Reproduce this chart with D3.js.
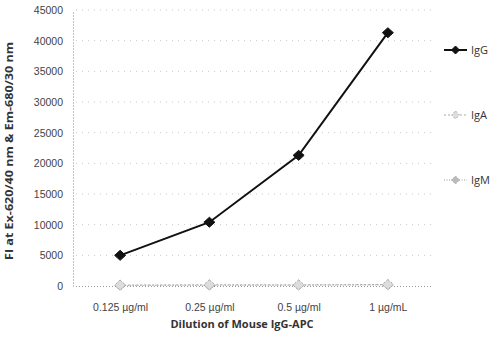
<!DOCTYPE html>
<html>
<head>
<meta charset="utf-8">
<script src="https://cdn.jsdelivr.net/npm/d3@7"></script>
<style>
body { margin: 0; background: #fff; }
svg { font-family: "Open Sans", sans-serif; }
</style>
</head>
<body>
<script>
// categorie (diluizioni)
var dilutions = ["0.125 \u00b5g/ml", "0.25 \u00b5g/ml", "0.5 \u00b5g/ml", "1 \u00b5g/mL"];
// valori
var igG = [5000, 10400, 21300, 41300];
var igA = [150, 200, 180, 250];
var igM = [100, 120, 140, 180];
var yTicks = [0, 5000, 10000, 15000, 20000, 25000, 30000, 35000, 40000, 45000];
var seriesNames = ["IgG", "IgA", "IgM"];

var width = 500, height = 338;

var svg = d3.select("body").append("svg")
	.attr("width", width)
	.attr("height", height);

var x = d3.scalePoint()
	.domain(dilutions)
	.range([75.5, 432.5])
	.padding(0.5);

var y = d3.scaleLinear()
	.domain([0, 45000])
	.range([286, 10]);

// griglia orizzontale tratteggiata
svg.append("g")
	.selectAll("line")
	.data(yTicks.filter(function(d) { return d > 0; }))
	.enter()
	.append("line")
	.attr("x1", 76).attr("x2", 432)
	.attr("y1", function(d) { return y(d); })
	.attr("y2", function(d) { return y(d); })
	.attr("stroke", "#c8c8c8")
	.attr("stroke-width", 1)
	.attr("stroke-dasharray", "1 5");

// asse y
var yAxis = svg.append("g")
	.attr("transform", "translate(73,0)")
	.call(d3.axisLeft(y).tickValues(yTicks).tickSize(0).tickPadding(10).tickFormat(d3.format("d")));
yAxis.select(".domain")
	.attr("stroke", "#888")
	.attr("stroke-dasharray", "1 2");
yAxis.selectAll("text")
	.attr("font-size", 10.5)
	.attr("fill", "#444");

// asse x
var xAxis = svg.append("g")
	.attr("transform", "translate(0," + y(0) + ")")
	.call(d3.axisBottom(x).tickSize(0).tickPadding(18));
xAxis.select(".domain")
	.attr("stroke", "#999")
	.attr("stroke-dasharray", "1 2");
xAxis.selectAll("text")
	.attr("font-size", 10.5)
	.attr("fill", "#444");

// titoli
svg.append("text")
	.attr("transform", "translate(13,151) rotate(-90)")
	.attr("text-anchor", "middle")
	.attr("font-size", 10.5)
	.attr("font-weight", "bold")
	.attr("fill", "#333")
	.attr("textLength", 218)
	.attr("lengthAdjust", "spacingAndGlyphs")
	.text("FI at Ex-620/40 nm & Em-680/30 nm");

svg.append("text")
	.attr("x", 242).attr("y", 328)
	.attr("text-anchor", "middle")
	.attr("font-size", 11)
	.attr("font-weight", "bold")
	.attr("fill", "#333")
	.text("Dilution of Mouse IgG-APC");

var series = [
	{ name: seriesNames[0], values: igG, color: "#111", width: 2, dash: null, fill: "#111" },
	{ name: seriesNames[1], values: igA, color: "#aaa", width: 1, dash: "2 2", fill: "#ddd" },
	{ name: seriesNames[2], values: igM, color: "#999", width: 1, dash: "1 1.5", fill: "#bbb" }
];

var line = d3.line()
	.x(function(d, i) { return x(dilutions[i]); })
	.y(function(d) { return y(d); });

// rombo un po' piu' largo che alto
function diamond(w, h) {
	return "M0," + (-h / 2) + "L" + (w / 2) + ",0L0," + (h / 2) + "L" + (-w / 2) + ",0Z";
}

// disegno le serie (prima quelle grigie, poi IgG sopra)
series.slice().reverse().forEach(function(s) {
	svg.append("path")
		.datum(s.values)
		.attr("fill", "none")
		.attr("stroke", s.color)
		.attr("stroke-width", s.width)
		.attr("stroke-dasharray", s.dash)
		.attr("d", line);

	svg.selectAll(null)
		.data(s.values)
		.enter()
		.append("path")
		.attr("transform", function(d, i) { return "translate(" + x(dilutions[i]) + "," + y(d) + ")"; })
		.attr("d", diamond(11, 10))
		.attr("fill", s.fill)
		.attr("stroke", s.color)
		.attr("stroke-dasharray", s.dash);
});

// legenda
var legend = svg.append("g")
	.selectAll("g")
	.data(series)
	.enter()
	.append("g")
	.attr("transform", function(d, i) { return "translate(444," + (50 + i * 65) + ")"; });

legend.append("line")
	.attr("x1", 0).attr("x2", 23)
	.attr("stroke", function(d) { return d.color; })
	.attr("stroke-width", function(d) { return d.width; })
	.attr("stroke-dasharray", function(d) { return d.dash; });

legend.append("path")
	.attr("transform", "translate(11.5,0)")
	.attr("d", diamond(8, 8))
	.attr("fill", function(d) { return d.fill; })
	.attr("stroke", function(d) { return d.color; })
	.attr("stroke-dasharray", function(d) { return d.dash; });

legend.append("text")
	.attr("x", 27)
	.attr("dy", "0.35em")
	.attr("font-size", 11)
	.attr("fill", "#333")
	.text(function(d) { return d.name; });
</script>
</body>
</html>
